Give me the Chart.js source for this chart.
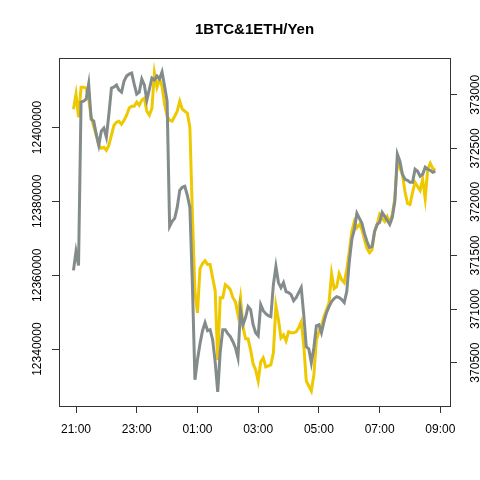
<!DOCTYPE html>
<html lang="en">
<head>
  <meta charset="UTF-8" />
  <title>1BTC&amp;1ETH/Yen</title>
  <script src="https://cdn.jsdelivr.net/npm/chart.js"></script>
  <style>
    body { margin: 0; background: #fff; }
    #wrap { width: 480px; height: 480px; }
  </style>
</head>
<body>
<div id="wrap"><canvas id="priceChart" width="480" height="480"></canvas></div>

<script>
  // 5-minute samples, minutes counted from 21:00
  const startMinute = -5;
  const stepMinutes = 5;

  const btcYen = [
    12361300, 12366430, 12362630, 12406870, 12407140, 12407680, 12411750, 12402250, 12401710, 12398180,
    12395200, 12399000, 12399810, 12397370, 12403610, 12410670, 12410940, 12411480, 12410120, 12409580,
    12412570, 12413920, 12414470, 12414740, 12411750, 12409040, 12409580, 12413110, 12411480, 12407410,
    12410390, 12413380, 12412840, 12413920, 12413110, 12415010, 12411210, 12407140, 12373210, 12374570,
    12375380, 12378370, 12382980, 12383800, 12384070, 12381630, 12378370, 12357470, 12331690, 12337120,
    12341460, 12344990, 12347160, 12344990, 12345260, 12342540, 12336570, 12328430, 12339290, 12345260,
    12345260, 12344170, 12343360, 12342000, 12340370, 12337660, 12350690, 12346620, 12348520, 12351500,
    12350690, 12346620, 12344440, 12343630, 12352040, 12350420, 12349600, 12349060, 12348790, 12357470,
    12362360, 12358010, 12356660, 12358010, 12355570, 12355300, 12354760, 12353130, 12353940, 12355300,
    12356660, 12349330, 12340640, 12340100, 12336300, 12340370, 12346340, 12346620, 12344440, 12347430,
    12349870, 12351500, 12352860, 12353670, 12354210, 12353940, 12353400, 12352590, 12355570, 12363710,
    12369680, 12372400, 12376740, 12375380, 12374030, 12371310, 12369140, 12367510, 12367780, 12371860,
    12373750, 12374300, 12377010, 12375930, 12374840, 12373750, 12375660, 12380000, 12392750, 12390850,
    12387330, 12385970, 12385700, 12385150, 12385150, 12388680, 12388140, 12386780, 12387330, 12389230,
    12388680, 12388410, 12387870, 12388140
  ];

  const ethYen = [
    372866, 373006, 372791, 373072, 373072, 373063, 372960, 372791, 372707, 372623,
    372529, 372501, 372510, 372482, 372529, 372623, 372716, 372744, 372754, 372726,
    372763, 372810, 372875, 372894, 372894, 372932, 372903, 372950, 372969, 372847,
    372810, 372875, 373203, 373072, 373147, 373081, 372913, 372800, 372763, 372754,
    372800, 372847, 372941, 372866, 372847, 372829, 372697, 371883, 371162, 370965,
    371377, 371424, 371452, 371415, 371415, 371293, 371171, 370525, 371106, 371106,
    371228, 371209, 371181, 371106, 371068, 370947, 371106, 370834, 370722, 370722,
    370619, 370488, 370432, 370329, 370507, 370544, 370460, 370469, 370479, 370591,
    371031, 370900, 370731, 370759, 370703, 370788, 370778, 370778, 370788, 370825,
    370881, 370666, 370329, 370282, 370235, 370385, 370713, 370788, 370844, 370928,
    370994, 371059, 371331, 371190, 371209, 371331, 371274, 371246, 371368, 371537,
    371724, 371817, 371761, 371789, 371743, 371649, 371565, 371527, 371555, 371724,
    371789, 371883, 371846, 371817, 371864, 371808, 371883, 372033, 372379, 372314,
    372258, 372098, 371986, 371977, 372089, 372183, 372145, 372108, 372211, 372033,
    372304, 372361, 372314, 372295
  ];

  const xTickMinutes = [0, 120, 240, 360, 480, 600, 720];
  const xTickLabels = ['21:00', '23:00', '01:00', '03:00', '05:00', '07:00', '09:00'];
  const btcTicks = [12340000, 12360000, 12380000, 12400000];
  const ethTicks = [370500, 371000, 371500, 372000, 372500, 373000];

  const toPoints = vals => vals.map((v, i) => ({ x: startMinute + i * stepMinutes, y: v }));

  const axisColor = '#333';
  const font = { family: "'Liberation Sans', Arial, sans-serif", size: 12 };

  // R-style box around the plot region
  const boxPlugin = {
    id: 'box',
    afterDraw(chart) {
      const a = chart.chartArea;
      const ctx = chart.ctx;
      ctx.save();
      ctx.strokeStyle = axisColor;
      ctx.lineWidth = 1;
      ctx.strokeRect(a.left + 0.5, a.top + 0.5, a.right - a.left, a.bottom - a.top);
      ctx.restore();
    }
  };

  new Chart(document.getElementById('priceChart'), {
    type: 'line',
    data: {
      datasets: [
        {
          label: '1BTC',
          data: toPoints(btcYen),
          yAxisID: 'yL',
          borderColor: '#838B8B',
          borderWidth: 3,
          pointRadius: 0,
          tension: 0
        },
        {
          label: '1ETH',
          data: toPoints(ethYen),
          yAxisID: 'yR',
          borderColor: '#EEC900',
          borderWidth: 3,
          pointRadius: 0,
          tension: 0
        }
      ]
    },
    options: {
      responsive: false,
      animation: false,
      layout: { padding: 0 },
      plugins: {
        legend: { display: false },
        tooltip: { enabled: false },
        title: {
          display: true,
          fullSize: false,
          text: '1BTC&1ETH/Yen',
          color: '#000',
          font: { family: font.family, size: 15, weight: 'bold' },
          padding: { top: 21, bottom: 19 }
        }
      },
      scales: {
        x: {
          type: 'linear',
          min: -33.6,
          max: 739,
          afterBuildTicks: s => { s.ticks = xTickMinutes.map(v => ({ value: v })); },
          afterFit: s => { s.height = 74; },
          ticks: {
            color: '#000',
            font,
            padding: 9,
            maxRotation: 0,
            callback: v => xTickLabels[xTickMinutes.indexOf(v)]
          },
          grid: { drawOnChartArea: false, color: axisColor, tickLength: 7 },
          border: { display: false }
        },
        yL: {
          type: 'linear',
          position: 'left',
          min: 12324600,
          max: 12418800,
          afterBuildTicks: s => { s.ticks = btcTicks.map(v => ({ value: v })); },
          afterFit: s => { s.width = 59; },
          ticks: {
            color: '#000',
            font,
            minRotation: 90,
            maxRotation: 90,
            crossAlign: 'center',
            padding: -12,
            callback: v => String(v)
          },
          grid: { drawOnChartArea: false, color: axisColor, tickLength: 7 },
          border: { display: false }
        },
        yR: {
          type: 'linear',
          position: 'right',
          min: 370095,
          max: 373344,
          afterBuildTicks: s => { s.ticks = ethTicks.map(v => ({ value: v })); },
          afterFit: s => { s.width = 30; },
          ticks: {
            color: '#000',
            font,
            minRotation: 90,
            maxRotation: 90,
            crossAlign: 'center',
            padding: -1,
            callback: v => String(v)
          },
          grid: { drawOnChartArea: false, color: axisColor, tickLength: 7 },
          border: { display: false }
        }
      }
    },
    plugins: [boxPlugin]
  });
</script>
</body>
</html>
